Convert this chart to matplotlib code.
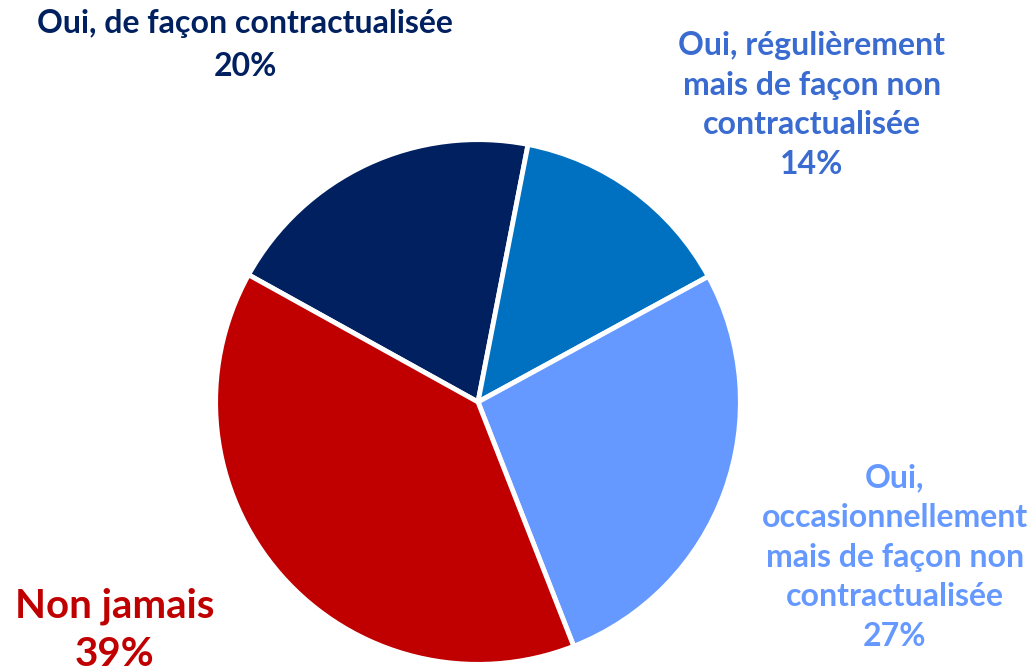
import matplotlib
matplotlib.use("Agg")
import matplotlib.pyplot as plt

plt.rcParams['font.family'] = ['Lato', 'DejaVu Sans']

# data, in drawing order (clockwise)
categories = ["Oui, de façon contractualisée",
              "Oui, régulièrement mais de façon non contractualisée",
              "Oui, occasionnellement mais de façon non contractualisée",
              "Non jamais"]
shares = [20, 14, 27, 39]
slice_colors = ["#002060", "#0070C0", "#6699FF", "#C00000"]
label_texts = ["Oui, de façon contractualisée\n20%",
               "Oui, régulièrement\nmais de façon non\ncontractualisée\n14%",
               "Oui,\noccasionnellement\nmais de façon non\ncontractualisée\n27%",
               "Non jamais\n39%"]
label_colors = ["#002060", "#3A6BD0", "#6699FF", "#C00000"]

W, H = 1036, 672
fig = plt.figure(figsize=(W / 100, H / 100), dpi=100)

# pie centre ~(478, 402) px, radius ~265 px
cx, cy, r = 478, 402, 265
ax = fig.add_axes([(cx - r) / W, 1 - (cy + r) / H, 2 * r / W, 2 * r / H])
ax.pie(shares, colors=slice_colors, startangle=151, counterclock=False,
       wedgeprops=dict(edgecolor="white", linewidth=3.5))
ax.set_xlim(-1.01, 1.01); ax.set_ylim(-1.01, 1.01)
ax.set_aspect("equal")
ax.axis("off")

# label placement (px centres) and sizes
pos = [(245, 45), (812, 105), (895, 557), (115, 630)]
sizes = [23, 23, 23, 29]
spacing = [1.58, 1.45, 1.45, 1.37]
for txt, col, (x, y), fs, ls in zip(label_texts, label_colors, pos, sizes, spacing):
    fig.text(x / W, 1 - y / H, txt, color=col, fontsize=fs, fontweight="bold",
             ha="center", va="center", multialignment="center", linespacing=ls)

fig.savefig("out.png", dpi=100)
